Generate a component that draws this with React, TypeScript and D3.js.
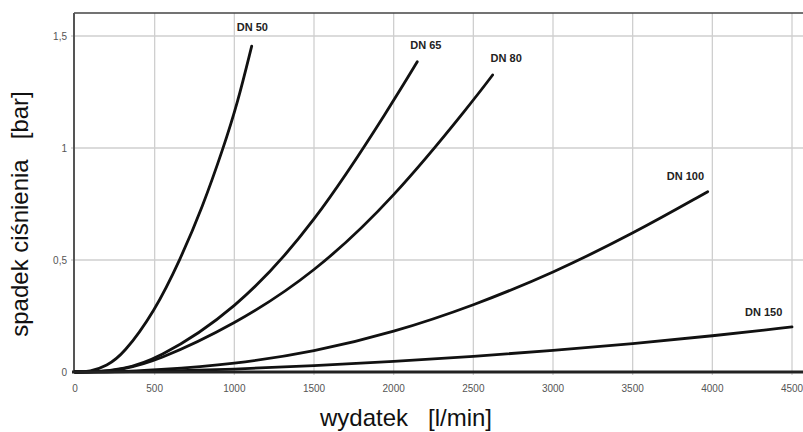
import React from "react";
import * as d3 from "d3";

const seriesNames = ["DN 50", "DN 65", "DN 80", "DN 100", "DN 150"];

const dn50: [number, number][] = [
  [0, 0], [94, 0], [200, 0.028], [300, 0.076], [500, 0.27], [659, 0.5], [800, 0.735], [931, 1.0], [1020, 1.2], [1109, 1.455],
];
const dn65: [number, number][] = [
  [0, 0], [140, 0], [300, 0.014], [500, 0.05], [1000, 0.27], [1500, 0.655], [2000, 1.21], [2148, 1.385],
];
const dn80: [number, number][] = [
  [0, 0], [140, 0], [300, 0.012], [500, 0.045], [1000, 0.21], [1500, 0.44], [2000, 0.775], [2500, 1.212], [2621, 1.326],
];
const dn100: [number, number][] = [
  [0, 0], [250, 0], [500, 0.008], [1000, 0.035], [1500, 0.09], [2000, 0.177], [2500, 0.296], [3000, 0.442], [3500, 0.617], [3971, 0.805],
];
const dn150: [number, number][] = [
  [0, 0], [250, 0], [500, 0.003], [1000, 0.012], [1500, 0.028], [2000, 0.047], [2500, 0.069], [3000, 0.096], [3500, 0.126], [4000, 0.161], [4500, 0.201],
];

const seriesData = [dn50, dn65, dn80, dn100, dn150];

const xTicks = [0, 500, 1000, 1500, 2000, 2500, 3000, 3500, 4000, 4500];
const yTicks = [0, 0.5, 1, 1.5];
const yTickLabels = ["0", "0,5", "1", "1,5"];

// label placement offsets (styling, relative to the curve's last point)
const labelOffsets: [number, number][] = [
  [-15, -15], [-7, -13], [-2, -13], [-41, -12], [-47, -11],
];

export default function App() {
  const W = 803;
  const H = 432;
  const left = 75;
  const top = 13;
  const bottom = 372;

  const x = d3.scaleLinear().domain([0, 4500]).range([left, 792]);
  const y = d3.scaleLinear().domain([0, 1.6]).range([bottom, bottom - 1.6 * 224]);

  const line = d3
    .line<[number, number]>()
    .x((d) => x(d[0]))
    .y((d) => y(d[1]))
    .curve(d3.curveBasis);

  return (
    <svg
      width={W}
      height={H}
      style={{ position: "absolute", left: 0, top: 0, background: "#fff" }}
      fontFamily="Arial, 'Liberation Sans', sans-serif"
    >
      <rect x={0} y={0} width={W} height={H} fill="#fff" />
      {/* vertical gridlines */}
      {xTicks.slice(1).map((t) => (
        <line key={"vx" + t} x1={x(t)} x2={x(t)} y1={top} y2={bottom + 3} stroke="#cfcfcf" strokeWidth={1.3} />
      ))}
      {/* horizontal gridlines */}
      {yTicks.slice(1).map((t) => (
        <line key={"hy" + t} x1={left - 4} x2={W} y1={y(t)} y2={y(t)} stroke="#cfcfcf" strokeWidth={1.3} />
      ))}
      {/* frame */}
      <line x1={left - 1} x2={W} y1={top} y2={top} stroke="#444" strokeWidth={1.5} />
      <line x1={left - 1} x2={left - 1} y1={top} y2={bottom + 1} stroke="#555" strokeWidth={2} />
      {/* curves */}
      {seriesData.map((s, i) => (
        <path key={seriesNames[i]} d={line(s) || ""} fill="none" stroke="#111" strokeWidth={2.8} strokeLinecap="round" />
      ))}
      <line x1={left - 3} x2={W} y1={bottom} y2={bottom} stroke="#222" strokeWidth={3} />
      {/* curve labels */}
      {seriesData.map((s, i) => {
        const last = s[s.length - 1];
        return (
          <text
            key={"lab" + i}
            x={x(last[0]) + labelOffsets[i][0]}
            y={y(last[1]) + labelOffsets[i][1]}
            fontSize={11}
            fontWeight="bold"
            fill="#222"
          >
            {seriesNames[i]}
          </text>
        );
      })}
      {/* y tick labels */}
      {yTicks.map((t, i) => (
        <text key={"yl" + t} x={67} y={y(t)} dy="0.35em" textAnchor="end" fontSize={10} fill="#555">
          {yTickLabels[i]}
        </text>
      ))}
      {/* x tick labels */}
      {xTicks.map((t) => (
        <text key={"xl" + t} x={x(t)} y={388} dy="0.35em" textAnchor="middle" fontSize={10} fill="#555">
          {t}
        </text>
      ))}
      {/* axis titles */}
      <text x={406} y={426} textAnchor="middle" fontSize={24} fill="#111" style={{ whiteSpace: "pre" }}>
        {"wydatek   [l/min]"}
      </text>
      <text
        transform="translate(28,214) rotate(-90)"
        textAnchor="middle"
        fontSize={24}
        fill="#111"
        style={{ whiteSpace: "pre" }}
      >
        {"spadek ciśnienia   [bar]"}
      </text>
    </svg>
  );
}
